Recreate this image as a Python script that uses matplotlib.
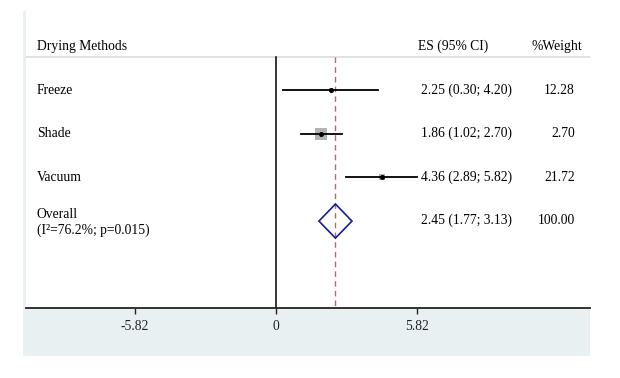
import numpy as np
import matplotlib
matplotlib.use("Agg")
import matplotlib.pyplot as plt
from matplotlib.patches import Rectangle, Polygon
from matplotlib.transforms import blended_transform_factory

plt.rcParams['font.family'] = ['Liberation Serif', 'DejaVu Serif']

# ---- data ----
studies = ["Freeze", "Shade", "Vacuum"]
es = [2.25, 1.86, 4.36]
lo = [0.30, 1.02, 2.89]
hi = [4.20, 2.70, 5.82]
weights = ["12.28", "2.70", "21.72"]
overall_es = 2.45
overall_lo = 1.77
overall_hi = 3.13
overall_weight = "100.00"
overall_label = "Overall"
overall_het = "(I\u00b2=76.2%; p=0.015)"
xticks = [-5.82, 0, 5.82]
xticklabels = ["-5.82", "0", "5.82"]
header_label = "Drying Methods"
header_es = "ES (95% CI)"
header_w = "%Weight"

W, H = 620, 378
fig = plt.figure(figsize=(W / 100, H / 100), dpi=100)
fig.patch.set_facecolor("white")

# outer light-blue panel
fig.patches.append(Rectangle((23 / W, (H - 356) / H), (590 - 23) / W, (356 - 11) / H,
                             transform=fig.transFigure, facecolor="#e8f0f2",
                             edgecolor="none", zorder=-10))

ax = fig.add_axes([26 / W, (H - 308) / H, (590 - 26) / W, (308 - 11) / H])
ax.set_zorder(5)
ax.set_facecolor("white")
ax.set_xlim(-10.29, 12.93)
ax.set_ylim(5.99, -0.81)
for s in ["top", "right", "left"]:
    ax.spines[s].set_visible(False)
ax.spines["bottom"].set_linewidth(1.3)
ax.spines["bottom"].set_color("#222222")
ax.set_yticks([])
ax.set_xticks(xticks)
fs = 9.8
ax.set_xticklabels(xticklabels, fontsize=fs)
ax.tick_params(axis="x", direction="out", length=4, width=1, colors="#222222", pad=5)

hdr_line = 0.245
ax.axhline(hdr_line, color="#d8dee1", lw=1.2, zorder=1)
ax.plot([0, 0], [hdr_line, 5.99], color="black", lw=1.1, zorder=2)
ax.plot([overall_es, overall_es], [hdr_line, 5.99], color="#c8606a", lw=1.0,
        ls=(0, (4, 3)), zorder=3)

tr = blended_transform_factory(ax.transAxes, ax.transData)
ax.text(0.0195, 0, header_label, transform=tr, fontsize=fs, va="center", ha="left")
ax.text(0.695, 0, header_es, transform=tr, fontsize=fs, va="center", ha="left")
ax.text(0.986, 0, header_w, transform=tr, fontsize=fs, va="center", ha="right")

# inverse-variance box sizes (side ~ 1/CI width)
ciw = np.array(hi) - np.array(lo)
side = (1 / ciw) / (1 / ciw).max() * 8.0

for i, name in enumerate(studies):
    y = i + 1
    ax.plot([lo[i], hi[i]], [y, y], color="black", lw=1.3, zorder=4)
    ax.plot([es[i]], [y], marker="s", ms=side[i], color="#b4b4b4",
            markeredgewidth=0, zorder=3.5)
    ax.plot([es[i]], [y], marker="o", ms=2.6, color="black", zorder=5)
    ax.text(0.0195, y, name, transform=tr, fontsize=fs, va="center", ha="left")
    ax.text(0.862, y, f"{es[i]:.2f} ({lo[i]:.2f}; {hi[i]:.2f})", transform=tr,
            fontsize=fs, va="center", ha="right")
    ax.text(0.973, y, weights[i], transform=tr, fontsize=fs, va="center", ha="right")

yo = len(studies) + 1
dh = 0.39
ax.add_patch(Polygon([[overall_lo, yo], [overall_es, yo - dh], [overall_hi, yo],
                      [overall_es, yo + dh]], closed=True, facecolor="none",
                     edgecolor="#1c1c8a", lw=1.2, zorder=4))
ax.text(0.0195, yo - 0.15, overall_label, transform=tr, fontsize=fs, va="center", ha="left")
ax.text(0.0195, yo + 0.22, overall_het, transform=tr, fontsize=fs, va="center", ha="left")
ax.text(0.862, yo - 0.02, f"{overall_es:.2f} ({overall_lo:.2f}; {overall_hi:.2f})",
        transform=tr, fontsize=fs, va="center", ha="right")
ax.text(0.973, yo - 0.02, overall_weight, transform=tr, fontsize=fs, va="center", ha="right")

fig.savefig("out.png", dpi=100, facecolor="white")
